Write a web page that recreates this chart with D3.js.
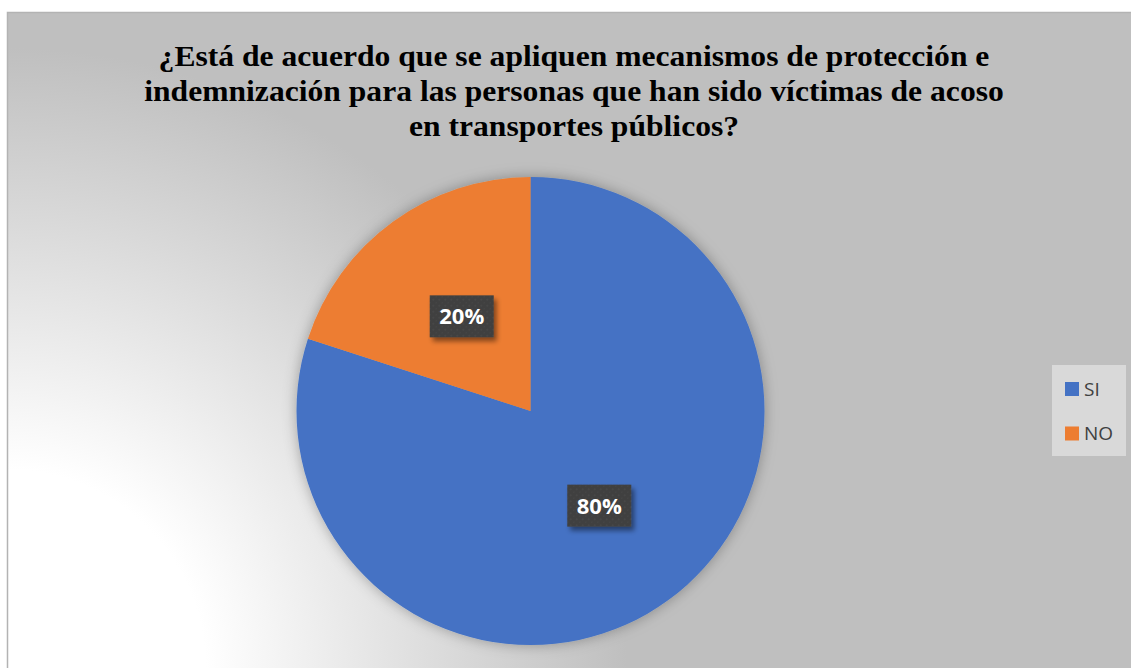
<!DOCTYPE html>
<html>
<head>
<meta charset="utf-8">
<script src="https://cdn.jsdelivr.net/npm/d3@7"></script>
<style>
  html, body { margin: 0; padding: 0; background: #fff; overflow: hidden; }
  svg { display: block; }
</style>
</head>
<body>
<div id="chart"></div>
<script>
var categories = ["SI", "NO"],
    values = [80, 20],
    colors = ["#4472c4", "#ed7d31"],
    title_lines = [
      "¿Está de acuerdo que se apliquen mecanismos de protección e",
      "indemnización para las personas que han sido víctimas de acoso",
      "en transportes públicos?"
    ];

var width = 1131,
    height = 668,
    frame_x = 7,
    frame_y = 12,
    cx = 530.5,
    cy = 411,
    radius = 234;

var svg = d3.select("#chart").append("svg")
    .attr("width", width)
    .attr("height", height);

var defs = svg.append("defs");

// background: white in the lower-left corner fading to grey
var grad = defs.append("radialGradient")
    .attr("id", "bg")
    .attr("gradientUnits", "userSpaceOnUse")
    .attr("cx", frame_x).attr("cy", height)
    .attr("r", 620);
grad.append("stop").attr("offset", "0%").attr("stop-color", "#ffffff");
grad.append("stop").attr("offset", "32%").attr("stop-color", "#ffffff");
grad.append("stop").attr("offset", "100%").attr("stop-color", "#bfbfbf");

// label texture and shadows
var pat = defs.append("pattern")
    .attr("id", "tex")
    .attr("patternUnits", "userSpaceOnUse")
    .attr("width", 6).attr("height", 6);
pat.append("rect").attr("width", 6).attr("height", 6).attr("fill", "#3f3f3f");
pat.append("circle").attr("cx", 1.5).attr("cy", 1.5).attr("r", 1).attr("fill", "#4a4a4a");
pat.append("circle").attr("cx", 4.5).attr("cy", 4.5).attr("r", 1).attr("fill", "#474747");

var shadow = defs.append("filter")
    .attr("id", "shadow")
    .attr("x", "-30%").attr("y", "-30%")
    .attr("width", "170%").attr("height", "170%");
shadow.append("feDropShadow")
    .attr("dx", 3).attr("dy", 4)
    .attr("stdDeviation", 2.5)
    .attr("flood-color", "#000")
    .attr("flood-opacity", 0.45);

var glow = defs.append("filter")
    .attr("id", "glow")
    .attr("x", "-20%").attr("y", "-20%")
    .attr("width", "140%").attr("height", "140%");
glow.append("feDropShadow")
    .attr("dx", 0).attr("dy", 0)
    .attr("stdDeviation", 7)
    .attr("flood-color", "#000")
    .attr("flood-opacity", 0.3);

svg.append("rect")
    .attr("x", frame_x + 0.5).attr("y", frame_y + 0.5)
    .attr("width", width - frame_x + 2).attr("height", height - frame_y + 2)
    .attr("fill", "url(#bg)")
    .attr("stroke", "#b3b3b3")
    .attr("stroke-width", 1.5);

// title (the source image is slightly stretched horizontally)
var title_x = 574, title_sx = 1.09;
svg.append("g")
    .attr("transform", "translate(" + title_x + ",0) scale(" + title_sx + ",1)")
    .append("text")
    .attr("text-anchor", "middle")
    .style("font-family", "'Liberation Serif', 'Times New Roman', serif")
    .style("font-weight", "bold")
    .style("font-size", "29px")
    .attr("fill", "#000")
    .selectAll("tspan")
    .data(title_lines)
    .join("tspan")
    .attr("x", 0)
    .attr("y", function (d, i) { return 66 + i * 35; })
    .text(function (d) { return d; });

// pie
var pie = d3.pie().sort(null).value(function (d) { return d.value; });
var arc = d3.arc().innerRadius(0).outerRadius(radius);
var data = pie(categories.map(function (c, i) {
  return { name: c, value: values[i], color: colors[i] };
}));
var total = d3.sum(values);

var g = svg.append("g").attr("transform", "translate(" + cx + "," + cy + ")");

g.append("g")
    .attr("filter", "url(#glow)")
    .selectAll("path.slice")
    .data(data)
    .join("path")
    .attr("class", "slice")
    .attr("d", arc)
    .attr("fill", function (d) { return d.data.color; });

var label_w = 64, label_h = 42;
var labels = g.selectAll("g.label")
    .data(data)
    .join("g")
    .attr("class", "label")
    .attr("transform", function (d) {
      var c = arc.centroid(d);
      return "translate(" + c[0] + "," + c[1] + ")";
    });
labels.append("rect")
    .attr("x", -label_w / 2).attr("y", -label_h / 2)
    .attr("width", label_w).attr("height", label_h)
    .attr("fill", "url(#tex)")
    .attr("filter", "url(#shadow)");
labels.append("text")
    .attr("text-anchor", "middle")
    .attr("dy", "0.36em")
    .style("font-family", "'Open Sans', Carlito, Calibri, sans-serif")
    .style("font-weight", "bold")
    .style("font-size", "22px")
    .attr("fill", "#fff")
    .text(function (d) { return Math.round(d.data.value / total * 100) + "%"; });

// legend
var legend = svg.append("g").attr("transform", "translate(1052,365)");
legend.append("rect")
    .attr("width", 74).attr("height", 91)
    .attr("fill", "#d9d9d9");
var items = legend.selectAll("g.item")
    .data(categories)
    .join("g")
    .attr("class", "item")
    .attr("transform", function (d, i) { return "translate(13," + (17 + i * 44.5) + ")"; });
items.append("rect")
    .attr("width", 14).attr("height", 14)
    .attr("fill", function (d, i) { return colors[i]; });
items.append("text")
    .attr("x", 19).attr("y", 7)
    .attr("dy", "0.36em")
    .style("font-family", "'Open Sans', Carlito, Calibri, sans-serif")
    .style("font-size", "19px")
    .attr("fill", "#404040")
    .text(function (d) { return d; });
</script>
</body>
</html>
